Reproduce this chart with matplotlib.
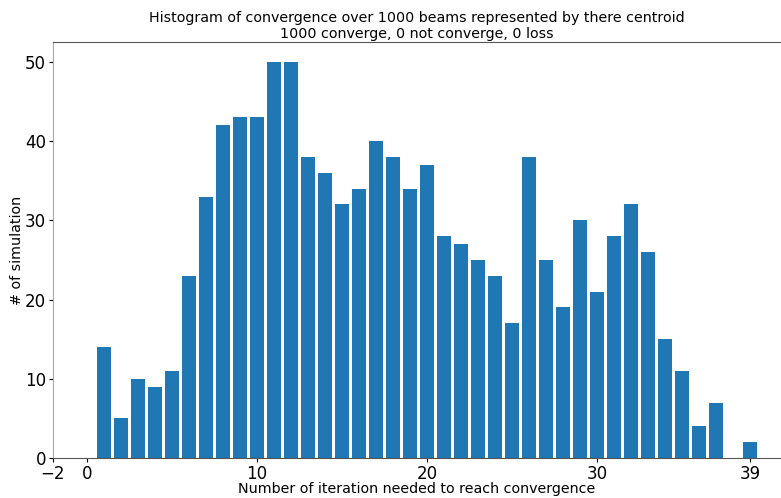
import matplotlib
matplotlib.use("Agg")
import matplotlib.pyplot as plt
import numpy as np

iterations = np.arange(1, 40)
counts = [14, 5, 10, 9, 11, 23, 33, 42, 43, 43, 50, 50, 38, 36, 32, 34, 40, 38,
          34, 37, 28, 27, 25, 23, 17, 38, 25, 19, 30, 21, 28, 32, 26, 15, 11, 4,
          7, 0, 2]
xticks = [-2, 0, 10, 20, 30, 39]

fig = plt.figure(figsize=(7.81, 4.98), dpi=100)
ax = fig.add_axes([53 / 781, 40 / 498, 728 / 781, 416 / 498])

ax.bar(iterations, counts, width=0.8, color="#1f77b4")

ax.set_xlim(-2, 40.82)
ax.set_ylim(0, 52.5)
ax.set_xticks(xticks)
ax.tick_params(labelsize=12, length=3, pad=2)
for s in ["left", "bottom", "top"]:
    ax.spines[s].set_color("#555555")
ax.spines["left"].set_color("#aaaaaa")
ax.spines["right"].set_visible(False)

ax.set_title("Histogram of convergence over 1000 beams represented by there centroid\n"
             "1000 converge, 0 not converge, 0 loss", fontsize=10.3, pad=3,
             linespacing=1.15)
ax.set_xlabel("Number of iteration needed to reach convergence", fontsize=10.3, labelpad=-1)
ax.set_ylabel("# of simulation", fontsize=10.3, labelpad=1)

fig.savefig("out.png", dpi=100)
